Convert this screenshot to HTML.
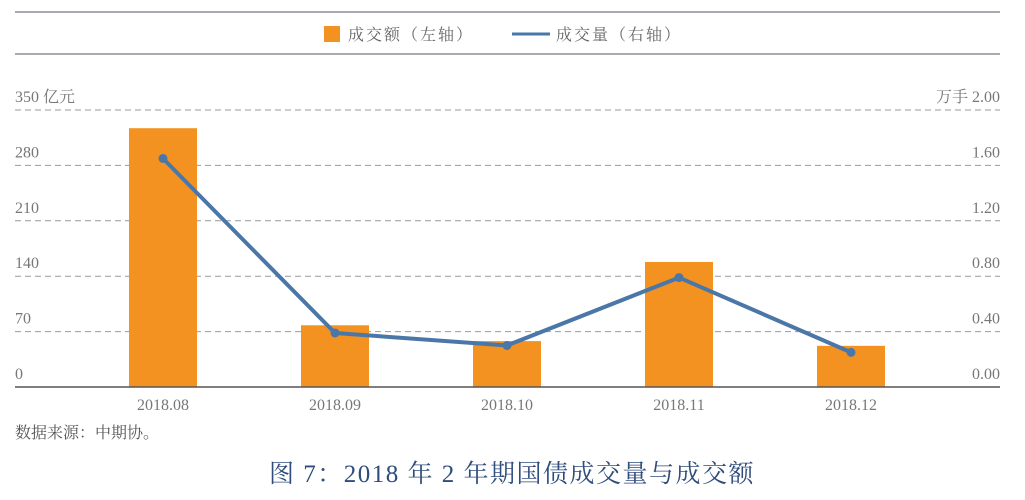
<!DOCTYPE html>
<html><head><meta charset="utf-8"><style>
html,body{margin:0;padding:0;background:#fff;}
svg text{font-family:"Liberation Serif","Noto Serif CJK SC",serif;}
</style></head><body>
<svg id="c" width="1025" height="495" xmlns="http://www.w3.org/2000/svg">
<line x1="15" y1="12" x2="1000" y2="12" stroke="#8a8f96" stroke-width="1.5"/>
<line x1="15" y1="54" x2="1000" y2="54" stroke="#8a8f96" stroke-width="1.5"/>
<g>
<rect x="324" y="26" width="16" height="16" fill="#f39220"/>
<text x="348" y="40" font-size="16" fill="#666" letter-spacing="2">成交额（左轴）</text>
<line x1="512" y1="34" x2="550" y2="34" stroke="#4a77a8" stroke-width="3"/>
<text x="556" y="40" font-size="16" fill="#666" letter-spacing="2">成交量（右轴）</text>
</g>
<g id="grid"></g><g id="bars"></g><g id="line"></g><g id="labels"></g>
<text x="15" y="438" font-size="16" fill="#555">数据来源：中期协。</text>
<text x="512" y="482" font-size="25" fill="#2f4d7c" text-anchor="middle" letter-spacing="1.5">图 7：2018 年 2 年期国债成交量与成交额</text>
</svg>
<script>
const categories=["2018.08","2018.09","2018.10","2018.11","2018.12"];
const amounts=[327,78,58,158,52];
const volumes=[1.65,0.39,0.30,0.79,0.25];
const leftTicks=[0,70,140,210,280,350];
const rightTicks=["0.00","0.40","0.80","1.20","1.60","2.00"];
const NS="http://www.w3.org/2000/svg";
const y0=387,yTop=110,xL=15,xR=1000,x0=163,step=172,bw=68;
const yL=v=>y0-(v/350)*(y0-yTop);
const yR=v=>y0-(v/2)*(y0-yTop);
const xC=i=>x0+i*step;
function mk(tag,attrs,parent,txt){const e=document.createElementNS(NS,tag);for(const k in attrs)e.setAttribute(k,attrs[k]);if(txt!=null)e.textContent=txt;parent.appendChild(e);return e;}
const grid=document.getElementById('grid'),bars=document.getElementById('bars'),line=document.getElementById('line'),labels=document.getElementById('labels');
leftTicks.forEach((t,i)=>{
 const y=yL(t);
 if(t>0){const g=mk('line',{x1:xL,y1:y,x2:xR,y2:y,stroke:'#999','stroke-width':1,'stroke-dasharray':'6,4'},grid);
 
 }
 const lt=mk('text',{x:15,y:y-8,'font-size':16,fill:'#777'},labels,t===350?'350 亿元':String(t));
 
 
 const rt=mk('text',{x:1000,y:y-8,'font-size':16,fill:'#777','text-anchor':'end'},labels,i===5?'万手 '+rightTicks[i]:rightTicks[i]);
 
 
});
amounts.forEach((v,i)=>{
 const r=mk('rect',{x:xC(i)-bw/2,y:yL(v),width:bw,height:y0-yL(v),fill:'#f39220'},bars);
 
 
 const t=mk('text',{x:xC(i),y:410,'font-size':16,fill:'#777','text-anchor':'middle'},labels,categories[i]);
 
 
});
const ax=mk('line',{x1:xL,y1:y0,x2:xR,y2:y0,stroke:'#555','stroke-width':1.5},bars);


const pts=volumes.map((v,i)=>xC(i)+','+yR(v)).join(' ');
const pl=mk('polyline',{points:pts,fill:'none',stroke:'#4a77a8','stroke-width':4,'stroke-linejoin':'round'},line);


volumes.forEach((v,i)=>{
 const c=mk('circle',{cx:xC(i),cy:yR(v),r:4.5,fill:'#4a77a8'},line);
 
 
});
</script>
</body></html>
